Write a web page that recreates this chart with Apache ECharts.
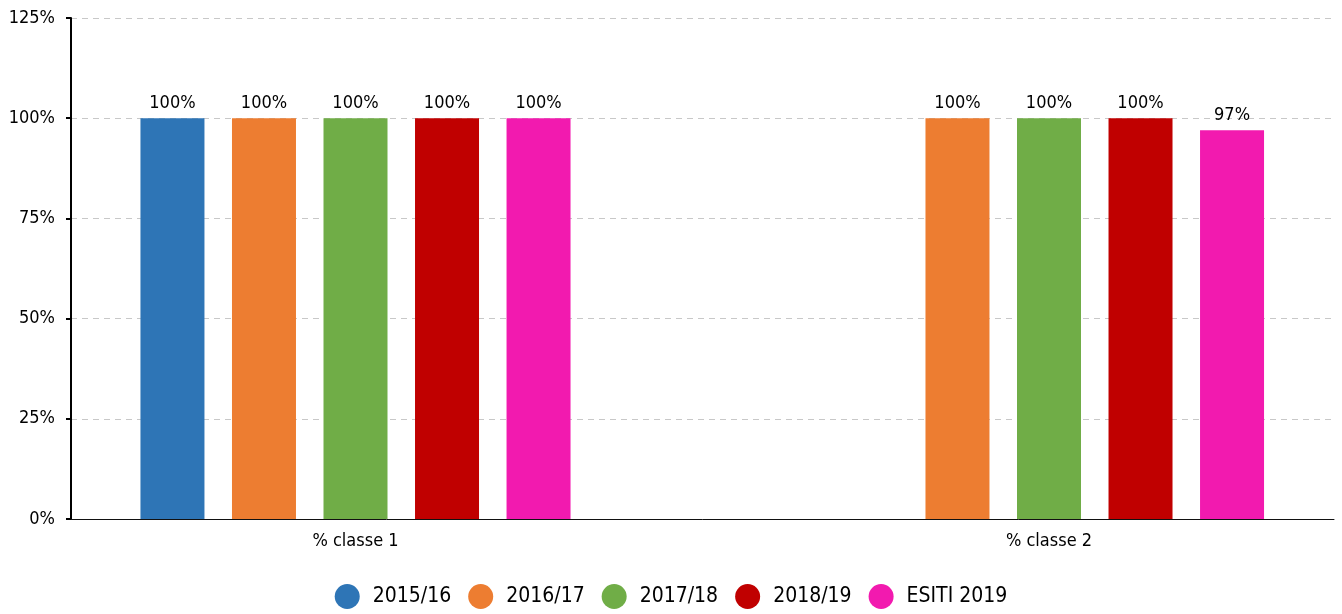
<!DOCTYPE html>
<html>
<head>
<meta charset="utf-8">
<script src="https://cdn.jsdelivr.net/npm/echarts@6/dist/echarts.min.js"></script>
<style>html,body{margin:0;padding:0;background:#fff}#c{width:1342px;height:614px}</style>
</head>
<body>
<div id="c"></div>
<script>
const categories = ['% classe 1', '% classe 2'];
const seriesNames = ['2015/16', '2016/17', '2017/18', '2018/19', 'ESITI 2019'];
const s2015_16 = [100, null];
const s2016_17 = [100, 100];
const s2017_18 = [100, 100];
const s2018_19 = [100, 100];
const sEsiti2019 = [100, 97];
const yTicks = [0, 25, 50, 75, 100, 125];

const colors = ['#2e75b6', '#ed7d31', '#70ad47', '#c00000', '#f21aaf'];
const FONT = '"DejaVu Sans Condensed", "DejaVu Sans", sans-serif';
const values = [s2015_16, s2016_17, s2017_18, s2018_19, sEsiti2019];

const chart = echarts.init(document.getElementById('c'));
chart.setOption({
  animation: false,
  color: colors,
  textStyle: { fontFamily: FONT },
  grid: [
    { left: 71, right: 8, top: 18, bottom: 95, outerBoundsMode: 'none' },
    { left: 8.75, width: 1387, top: 18, bottom: 95, outerBoundsMode: 'none' }
  ],
  legend: {
    bottom: 0,
    left: 'center',
    icon: 'circle',
    itemWidth: 25,
    itemHeight: 25,
    itemGap: 17,
    data: seriesNames,
    textStyle: { fontFamily: FONT, fontSize: 21, color: '#000', padding: [0, 0, 0, 8] }
  },
  xAxis: [
    {
      gridIndex: 0, type: 'value', min: 0, max: 1,
      axisLine: { show: true, onZero: false, lineStyle: { color: '#111', width: 1 } },
      axisTick: { show: false }, axisLabel: { show: false }, splitLine: { show: false }
    },
    {
      gridIndex: 1, type: 'category', data: categories,
      axisLine: { show: false }, axisTick: { show: false },
      axisLabel: { margin: 13, color: '#000', fontSize: 18, fontFamily: FONT }
    }
  ],
  yAxis: [
    {
      gridIndex: 0, type: 'value', min: yTicks[0], max: yTicks[yTicks.length - 1], interval: 25,
      axisLine: { show: true, lineStyle: { color: '#000', width: 2 } },
      axisTick: { show: true, length: 5, lineStyle: { color: '#000', width: 2 } },
      axisLabel: { formatter: '{value}%', color: '#000', fontSize: 18, margin: 16, fontFamily: FONT },
      splitLine: { show: true, lineStyle: { type: [6, 5], color: '#c8c8c8', width: 1 } }
    },
    {
      gridIndex: 1, type: 'value', min: yTicks[0], max: yTicks[yTicks.length - 1], interval: 25,
      show: false
    }
  ],
  series: seriesNames.map((name, i) => ({
    name: name,
    type: 'bar',
    xAxisIndex: 1,
    yAxisIndex: 1,
    data: values[i],
    barWidth: 64,
    barGap: '43%',
    label: {
      show: true, position: 'top', distance: 6,
      formatter: '{c}%', color: '#000', fontSize: 18, fontFamily: FONT
    }
  }))
});
</script>
</body>
</html>
